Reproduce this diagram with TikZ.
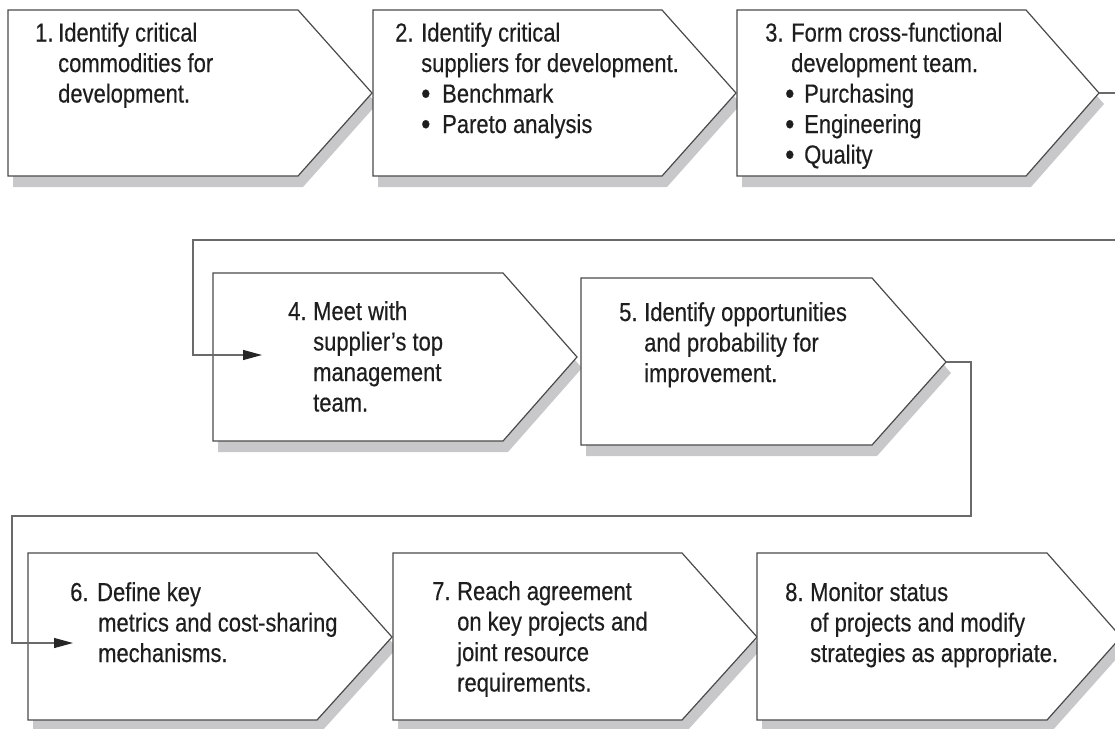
\documentclass[tikz,border=0pt]{standalone}
\usepackage{fontspec}
\setmainfont{Liberation Sans}[FakeStretch=0.845,FakeBold=0.35]
\usetikzlibrary{arrows.meta}
\definecolor{boxline}{HTML}{4A4A4A}
\definecolor{connline}{HTML}{6A6A6A}
\definecolor{shadowgray}{HTML}{C8C8CA}
\definecolor{txt}{HTML}{1E1E1E}
% name, left, top, right, tip x, tip y, bottom
\newcommand\chevbox[7]{%
  \fill[shadowstyle, shift={(5,11)}] (#2,#3) -- (#4,#3) -- (#5,#6) -- (#4,#7) -- (#2,#7) -- cycle;
  \draw[boxstyle] (#2,#3) -- (#4,#3) -- (#5,#6) -- (#4,#7) -- (#2,#7) -- cycle;
  \coordinate (#1-tip) at (#5,#6);
}
\newcommand\steptext[4]{%
  \node[steptxt] (#1) at (#2,#3) {\parbox[t]{340pt}{\fontsize{26pt}{30.5pt}\selectfont #4}};
}
\newcommand\nm[2]{\makebox[#2][l]{#1}}
\newcommand\bul{\makebox[0pt][l]{\raisebox{-1.5pt}{\fontsize{31pt}{30pt}\selectfont •}}}
\begin{document}
\begin{tikzpicture}[x=1pt,y=-1pt,
  boxstyle/.style={draw=boxline,line width=1.2pt,fill=white,line join=miter},
  shadowstyle/.style={fill=shadowgray},
  conn/.style={draw=connline,line width=1.2pt},
  arr/.style={-{Triangle[length=19pt,width=10pt,color=black!85]}},
  steptxt/.style={anchor=base west,inner sep=0pt,text=txt}]
\clip (0,0) rectangle (1115,728);
\fill[white] (0,0) rectangle (1115,728);

\chevbox{b1}{8}{10}{298}{372}{93}{176}
\chevbox{b2}{373}{10}{662}{736}{93}{176}
\chevbox{b3}{737}{10}{1026}{1099}{93}{176}
\chevbox{b4}{213}{273}{503}{577}{357}{441}
\chevbox{b5}{581}{278}{872}{946}{362}{445}
\chevbox{b6}{28}{553}{317}{392}{637}{720}
\chevbox{b7}{393}{553}{682}{757}{637}{720}
\chevbox{b8}{757}{553}{1047}{1121}{637}{720}

\steptext{t1}{35}{41.5}{\nm{1.}{23pt}Identify critical\\\hspace*{23pt}commodities for\\\hspace*{23pt}development.}
\steptext{t2}{395}{41.5}{\nm{2.}{26pt}Identify critical\\\hspace*{26pt}suppliers for development.\\\hspace*{26pt}\bul\hspace*{21pt}Benchmark\\\hspace*{26pt}\bul\hspace*{21pt}Pareto analysis}
\steptext{t3}{765}{41.5}{\nm{3.}{26pt}Form cross-functional\\\hspace*{26pt}development team.\\\hspace*{20pt}\bul\hspace*{19pt}Purchasing\\\hspace*{20pt}\bul\hspace*{19pt}Engineering\\\hspace*{20pt}\bul\hspace*{19pt}Quality}
\steptext{t4}{288}{320}{\nm{4.}{25pt}Meet with\\\hspace*{25pt}supplier’s top\\\hspace*{25pt}management\\\hspace*{25pt}team.}
\steptext{t5}{619}{321}{\nm{5.}{25pt}Identify opportunities\\\hspace*{25pt}and probability for\\\hspace*{25pt}improvement.}
\steptext{t6}{70}{601}{\nm{6.}{27pt}Define key\\\hspace*{28pt}metrics and cost-sharing\\\hspace*{28pt}mechanisms.}
\steptext{t7}{432}{600}{\nm{7.}{25pt}Reach agreement\\\hspace*{25pt}on key projects and\\\hspace*{25pt}joint resource\\\hspace*{25pt}requirements.}
\steptext{t8}{785}{601}{\nm{8.}{25pt}Monitor status\\\hspace*{25pt}of projects and modify\\\hspace*{25pt}strategies as appropriate.}

\coordinate (in4) at (262,355);
\coordinate (in6) at (73,643);
\draw[conn,arr] (b3-tip) -| (1125,240) -| (193,355) -- (in4);
\draw[conn,arr] (b5-tip) -| (971,516) -| (12,643) -- (in6);
\end{tikzpicture}
\end{document}
